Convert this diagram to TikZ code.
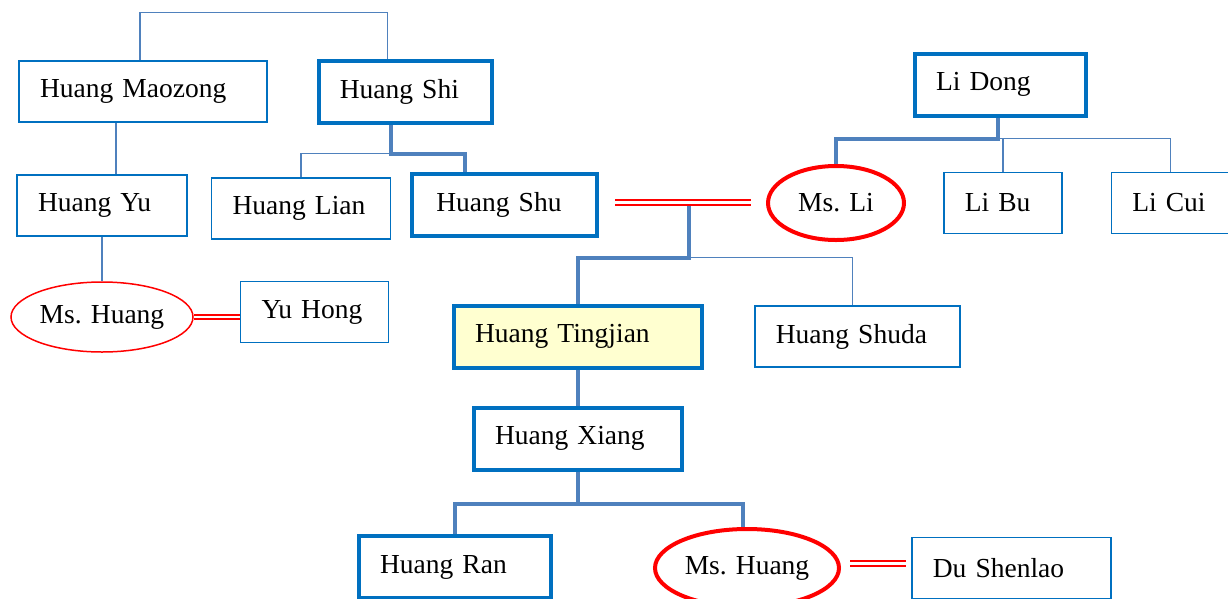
\documentclass[tikz,border=0pt]{standalone}
\usepackage{fontspec}
\setmainfont{Liberation Serif}
\usepackage{tikz}
\usetikzlibrary{positioning}
\usetikzlibrary{calc}
\usetikzlibrary{shapes.geometric}
\definecolor{boxblue}{RGB}{0,112,192}
\definecolor{lineblue}{RGB}{79,129,189}
\definecolor{paleyellow}{RGB}{255,255,208}
\tikzset{person/.style={draw=boxblue, line width=1.5pt, align=left, inner xsep=21pt, inner ysep=0pt, minimum height=61pt, text width=#1}}
\tikzset{heir/.style={person=#1, line width=4pt, minimum height=62pt}}
\tikzset{wife/.style={ellipse, draw=red, line width=1.5pt, inner sep=0pt}}
\tikzset{kin/.style={draw=lineblue, line width=1.5pt}}
\tikzset{bloodline/.style={draw=lineblue, line width=4pt}}
\tikzset{marriage/.style={draw=red, double=white, double distance=2.2pt, line width=2.2pt}}

\begin{document}
\begin{tikzpicture}[x=1pt,y=-1pt,font=\fontsize{27.5}{33}\selectfont]
   \useasboundingbox (0,0) rectangle (1228,598);

   \node[person=206pt] (maozong) at (143,91.5) {Huang Maozong};
   \node[heir=131pt] (shi) [right=49pt of maozong] {Huang Shi};
   \node[heir=129pt] (lidong) at (1000.5,84.5) {Li Dong};

   \node[person=128pt] (yu) at (102,205.5) {Huang Yu};
   \node[person=137pt] (lian) [right=23pt of yu, yshift=-3pt] {Huang Lian};
   \node[heir=137pt, inner xsep=24pt] (shu) [right=19pt of lian, yshift=3.5pt] {Huang Shu};
   \node[wife, line width=4pt, minimum width=136pt, minimum height=74pt] (msli) at (836,203) {Ms. Li};
   \node[person=76pt] (libu) [right=37pt of msli] {Li Bu};
   \node[person=76pt] (licui) [right=48pt of libu] {Li Cui};

   \node[wife, minimum width=182pt, minimum height=70pt] (mshuang) at (102,317) {Ms. Huang};
   \node[person=106pt] (yuhong) [right=46pt of mshuang, yshift=5pt] {Yu Hong};
   \node[heir=206pt, fill=paleyellow] (tingjian) at (578,336.5) {Huang Tingjian};
   \node[person=163pt] (shuda) [right=50pt of tingjian] {Huang Shuda};

   \node[heir=166pt] (xiang) [below=36pt of tingjian] {Huang Xiang};

   \node[heir=150pt] (ran) at (455,567) {Huang Ran};
   \node[wife, line width=4pt, minimum width=184pt, minimum height=78pt] (mshuangb) at (747,568) {Ms. Huang};
   \node[person=157pt] (dushenlao) [right=70pt of mshuangb] {Du Shenlao};

   \coordinate (wedleft) at (615,202.5);
   \coordinate (wedright) at (751,202.5);
   \coordinate (wed) at (689,202.5);
   \coordinate (wedbleft) at (850,563.5);
   \coordinate (wedbright) at (906,563.5);

   \draw[kin] ([xshift=-3pt]maozong.north) -- ++(0,-48) -| ([xshift=-18pt]shi.north);
   \draw[kin] ([xshift=-27pt]maozong.south) -- ([xshift=-27pt]maozong.south |- yu.north);
   \draw[kin] (yu.south) -- (mshuang.north);
   \draw[marriage] (mshuang.east) -- (yuhong.west |- mshuang.east);

   \draw[bloodline] ([xshift=-14pt]shi.south) -- ++(0,29) coordinate (shifork) -| ([xshift=-40pt]shu.north);
   \draw[kin] (shifork) -| (lian.north);

   \draw[bloodline] ([xshift=-3pt]lidong.south) -- ++(0,21) coordinate (lifork) -| (msli.north);
   \draw[kin] (lifork) -| (licui.north);
   \draw[kin] (lifork -| libu.north) -- (libu.north);

   \draw[bloodline] (wed) -- ++(0,55) coordinate (kids) -| (tingjian.north);
   \draw[kin] (kids) -| ([xshift=-5pt]shuda.north);
   \draw[marriage] (wedleft) -- (wedright);

   \draw[bloodline] (tingjian.south) -- (tingjian.south |- xiang.north);
   \draw[bloodline] (xiang.south) -- ++(0,32) coordinate (xfork) -| (ran.north);
   \draw[bloodline] (xfork) -| ([xshift=-4pt]mshuangb.north);
   \draw[marriage] (wedbleft) -- (wedbright);
\end{tikzpicture}
\end{document}
